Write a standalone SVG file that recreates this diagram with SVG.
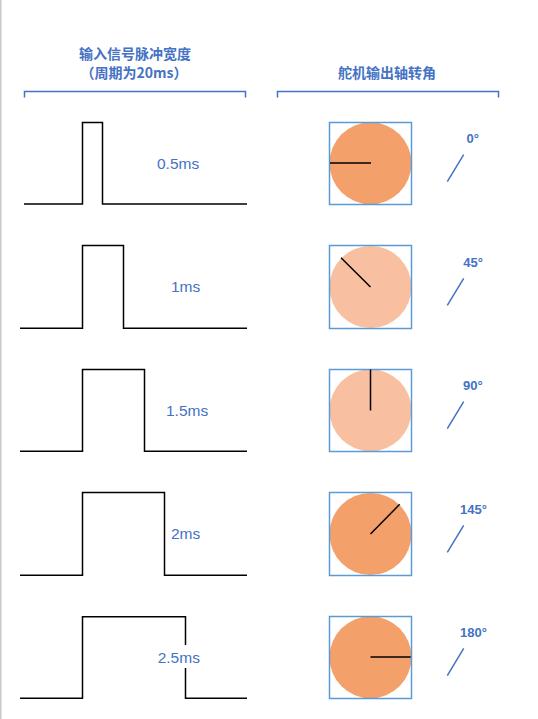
<svg xmlns="http://www.w3.org/2000/svg" width="538" height="719" viewBox="0 0 538 719">
<style>
.title{font-family:"Noto Sans CJK SC","Liberation Sans",sans-serif;font-size:14px;font-weight:bold;fill:#4472C4;text-anchor:middle}
.pulse{fill:none;stroke:#000;stroke-width:1.5}
.br{fill:none;stroke:#4472C4;stroke-width:1.5}
.lbl{font-family:"Liberation Sans",Arial,sans-serif;font-size:15.5px;fill:#4472C4}
.deg{font-family:"Liberation Sans",Arial,sans-serif;font-size:13px;font-weight:bold;fill:#4472C4}
.box{fill:none;stroke:#5B9BD5;stroke-width:1.5}
.dark{fill:#F3A06A}
.light{fill:#F8C0A0}
.needle{stroke:#000;stroke-width:1.5}
.slash{stroke:#4472C4;stroke-width:1.5}
</style>
<rect x="0" y="0" width="538" height="719" fill="#fff"/>
<rect x="0" y="0" width="1.5" height="719" fill="#C8C8C8"/>
<g id="header-left">
<text class="title" x="135" y="59">输入信号脉冲宽度</text>
<text class="title" x="134" y="78">（周期为20ms）</text>
<path class="br" d="M24.5,97.5 V91.5 H245.5 V97.5"/>
</g>
<g id="header-right">
<text class="title" x="387" y="78">舵机输出轴转角</text>
<path class="br" d="M277.5,97.5 V91.5 H498.5 V97.5"/>
</g>
<g id="row1">
<path class="pulse" d="M24,204 H82.5 V122.5 H102.5 V204 H247"/>
<text class="lbl" x="157" y="169">0.5ms</text>
<circle class="dark" cx="370.5" cy="163.3" r="41"/>
<rect class="box" x="329.5" y="122.5" width="82" height="82"/>
<line class="needle" x1="330" y1="163" x2="371" y2="163"/>
<line class="slash" x1="447.3" y1="181.7" x2="463.7" y2="154.7"/>
<text class="deg" x="466.5" y="143">0°</text>
</g>
<g id="row2">
<path class="pulse" d="M20,328.3 H82.5 V245.5 H123.5 V328.3 H247"/>
<text class="lbl" x="171" y="292">1ms</text>
<circle class="light" cx="370.5" cy="287" r="41"/>
<rect class="box" x="329.5" y="245.5" width="82" height="83"/>
<line class="needle" x1="341" y1="257.7" x2="370.5" y2="287"/>
<line class="slash" x1="447.3" y1="305.3" x2="463.7" y2="278.3"/>
<text class="deg" x="463.3" y="267">45°</text>
</g>
<g id="row3">
<path class="pulse" d="M20,451.3 H82.5 V369.5 H144.5 V451.3 H247"/>
<text class="lbl" x="166" y="415.5">1.5ms</text>
<circle class="light" cx="370.5" cy="410.3" r="41"/>
<rect class="box" x="329.5" y="369.5" width="82" height="82"/>
<line class="needle" x1="370.5" y1="369.5" x2="370.5" y2="410.5"/>
<line class="slash" x1="447.3" y1="428.7" x2="463.7" y2="401.7"/>
<text class="deg" x="463" y="390">90°</text>
</g>
<g id="row4">
<path class="pulse" d="M20,575.3 H82.5 V492.5 H164.5 V575.3 H247"/>
<text class="lbl" x="171" y="538.5">2ms</text>
<circle class="dark" cx="370.5" cy="534" r="41"/>
<rect class="box" x="329.5" y="492.5" width="82" height="83"/>
<line class="needle" x1="370.5" y1="534" x2="399.7" y2="504.3"/>
<line class="slash" x1="447.3" y1="552.3" x2="463.7" y2="525.3"/>
<text class="deg" x="460" y="514">145°</text>
</g>
<g id="row5">
<path class="pulse" d="M20,698.3 H82.5 V616.7 H185.5 V698.3 H247"/>
<rect x="157" y="645" width="43" height="23" fill="#fff"/>
<text class="lbl" x="157.7" y="662.7">2.5ms</text>
<circle class="dark" cx="370.5" cy="657.3" r="41"/>
<rect class="box" x="329.5" y="616.5" width="82" height="82"/>
<line class="needle" x1="370.5" y1="657" x2="410.7" y2="657"/>
<line class="slash" x1="447.3" y1="675.7" x2="463.7" y2="648.3"/>
<text class="deg" x="460" y="636.7">180°</text>
</g>
</svg>
